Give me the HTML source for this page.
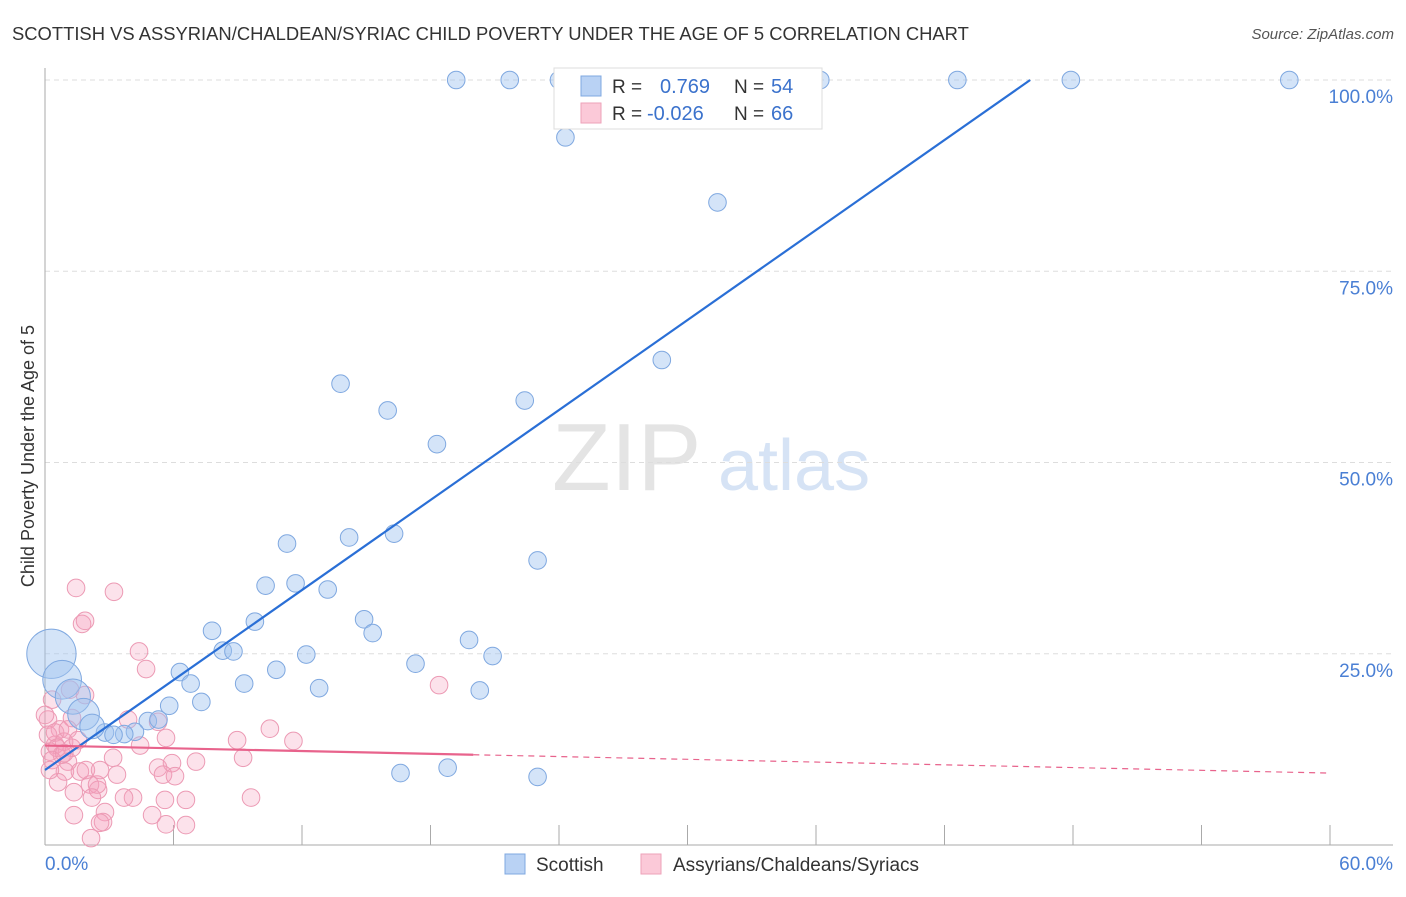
<!DOCTYPE html>
<html><head><meta charset="utf-8"><style>
body{margin:0;background:#fff;font-family:"Liberation Sans",sans-serif}
svg text{font-family:"Liberation Sans",sans-serif}
</style></head><body>
<svg id="chart" width="1406" height="892" xmlns="http://www.w3.org/2000/svg">
<text x="12" y="40" font-size="18.4" fill="#333">SCOTTISH VS ASSYRIAN/CHALDEAN/SYRIAC CHILD POVERTY UNDER THE AGE OF 5 CORRELATION CHART</text>
<text x="1394" y="39" font-size="15" fill="#555" text-anchor="end" font-style="italic">Source: ZipAtlas.com</text>
<g>
<text x="552" y="490" font-size="96" font-family="Liberation Serif" fill="#e4e4e4">ZIP</text>
<text x="718" y="490" font-size="72" fill="#d6e3f5">atlas</text>
</g>
<text transform="translate(34,456) rotate(-90)" font-size="18" fill="#333" text-anchor="middle">Child Poverty Under the Age of 5</text>
<g id="grid"></g><g id="axes"></g><g id="marks"></g>
<g>
<rect x="554" y="68" width="268" height="61" fill="#fff" stroke="#ddd"/>
<rect x="581" y="76" width="20" height="20" fill="#b9d2f4" stroke="#7fa8e0"/>
<text x="612" y="93" font-size="19" fill="#333">R =</text><text x="660" y="93" font-size="20" fill="#3b72cc">0.769</text>
<text x="734" y="93" font-size="19" fill="#333">N =</text><text x="771" y="93" font-size="20" fill="#3b72cc">54</text>
<rect x="581" y="103" width="20" height="20" fill="#fbc9d8" stroke="#eea2b9"/>
<text x="612" y="120" font-size="19" fill="#333">R =</text><text x="647" y="120" font-size="20" fill="#3b72cc">-0.026</text>
<text x="734" y="120" font-size="19" fill="#333">N =</text><text x="771" y="120" font-size="20" fill="#3b72cc">66</text>
</g>
<g>
<rect x="505" y="854" width="20" height="20" fill="#b9d2f4" stroke="#7fa8e0"/>
<text x="536" y="871" font-size="19" fill="#333">Scottish</text>
<rect x="641" y="854" width="20" height="20" fill="#fbc9d8" stroke="#eea2b9"/>
<text x="673" y="871" font-size="19" fill="#333">Assyrians/Chaldeans/Syriacs</text>
</g>
</svg>
<script>
const blueX=[19.2,21.7,24.0,27.3,36.2,42.6,47.9,58.1,24.3,31.4,28.8,13.8,16.0,22.4,18.3,11.3,14.2,16.3,23.0,10.3,11.7,13.2,9.8,14.9,15.3,7.8,19.8,8.3,8.8,12.2,20.9,6.3,10.8,17.3,6.8,9.3,12.8,20.3,7.3,5.8,4.8,5.3,4.2,3.7,2.8,3.2,16.6,18.8,23.0,0.3,0.8,1.3,1.8,2.2];
const blueY=[100,100,100,100,100,100,100,100,92.5,84.0,63.4,60.3,56.8,58.1,52.4,39.4,40.2,40.7,37.2,33.9,34.2,33.4,29.2,29.5,27.7,28.0,26.8,25.4,25.3,24.9,24.7,22.6,22.9,23.7,21.1,21.1,20.5,20.2,18.7,18.2,16.2,16.4,14.8,14.5,14.7,14.4,9.4,10.1,8.9,25.0,21.6,19.4,17.1,15.5];
const blueSize=[1,1,1,1,1,1,1,1,1,1,1,1,1,1,1,1,1,1,1,1,1,1,1,1,1,1,1,1,1,1,1,1,1,1,1,1,1,1,1,1,1,1,1,1,1,1,1,1,1,2.8,2.2,2.0,1.8,1.4];
const pinkX=[1.45,3.22,1.73,1.87,4.39,4.72,1.17,1.87,0.33,0.14,1.26,3.88,5.28,4.44,3.18,3.36,4.11,3.69,1.26,0.70,0.47,0.23,0.79,1.07,0.93,1.63,0.61,2.10,2.48,1.35,2.43,2.19,1.35,2.80,2.71,2.57,5.65,5.28,5.93,7.05,5.51,6.07,5.60,6.58,5.00,5.65,6.58,2.15,8.97,9.25,9.62,10.5,11.6,18.4,0.0,0.14,0.47,0.89,0.56,0.33,1.07,1.54,0.23,1.91,2.57,0.9];
const pinkY=[33.6,33.1,28.9,29.3,25.3,23.0,20.3,19.6,19.0,16.4,16.6,16.4,16.1,13.0,11.4,9.2,6.2,6.2,12.7,15.1,13.1,12.2,11.8,10.9,9.6,9.6,8.2,7.9,7.2,6.9,7.9,6.2,3.9,4.3,3.0,2.9,14.0,10.1,10.7,10.9,9.2,9.0,5.9,5.9,3.9,2.7,2.6,0.9,13.7,11.4,6.2,15.2,13.6,20.9,17.0,14.4,14.7,13.5,12.7,11.1,15.1,13.7,9.8,9.8,9.8,12.0];
const blueTrend=[0,9.8,46.0,100];
const pinkTrend=[0,13.0,60,9.4,20.0];
const yTicks=[25,50,75,100];
const yTickLabels=["25.0%","50.0%","75.0%","100.0%"];
const xTicks=[0,6,12,18,24,30,36,42,48,54,60];
const X0=45,X1=1330,Y0=845,Y100=80;
const sx=v=>X0+v/60*(X1-X0);
const sy=v=>Y0-v/100*(Y0-Y100);
const NS="http://www.w3.org/2000/svg";
function mk(tag,attrs,parent){const e=document.createElementNS(NS,tag);for(const k in attrs)e.setAttribute(k,attrs[k]);parent.appendChild(e);return e;}
const grid=document.getElementById('grid'),axes=document.getElementById('axes'),marks=document.getElementById('marks');
yTicks.forEach((t,i)=>{
 const l=mk('line',{x1:X0,x2:1393,y1:sy(t),y2:sy(t),stroke:'#ddd','stroke-dasharray':'5,4'},grid);
 
 
 const tx=mk('text',{x:1393,y:sy(t)+23,'font-size':19,fill:'#4a7fd4','text-anchor':'end'},grid);
 tx.textContent=yTickLabels[i];
 
 
});
const ya=mk('line',{x1:X0,x2:X0,y1:68,y2:Y0,stroke:'#aaa'},axes);


const xa=mk('line',{x1:X0,x2:1393,y1:Y0,y2:Y0,stroke:'#aaa'},axes);


xTicks.forEach(t=>{
 const l=mk('line',{x1:sx(t),x2:sx(t),y1:Y0-20,y2:Y0,stroke:'#aaa'},axes);
 
 
});
[[0,'0.0%','start',45],[60,'60.0%','end',1393]].forEach(a=>{
 const tx=mk('text',{x:a[3],y:870,'font-size':19,fill:'#4a7fd4','text-anchor':a[2]},axes);
 tx.textContent=a[1];
 
 
});
pinkX.forEach((x,i)=>{
 const c=mk('circle',{cx:sx(x),cy:sy(pinkY[i]),r:8.8,fill:'rgba(244,160,188,0.3)',stroke:'#ec9ab4','stroke-width':1},marks);
 
 
});
blueX.forEach((x,i)=>{
 const c=mk('circle',{cx:sx(x),cy:sy(blueY[i]),r:8.8*blueSize[i],fill:'rgba(160,195,240,0.45)',stroke:'#7fa8e0','stroke-width':1},marks);
 
 
});
const bl=mk('line',{x1:sx(blueTrend[0]),y1:sy(blueTrend[1]),x2:sx(blueTrend[2]),y2:sy(blueTrend[3]),stroke:'#2a6fd6','stroke-width':2.2},marks);


const pAt=x=>pinkTrend[1]+(pinkTrend[3]-pinkTrend[1])*(x-pinkTrend[0])/(pinkTrend[2]-pinkTrend[0]);
const pl=mk('line',{x1:sx(pinkTrend[0]),y1:sy(pAt(pinkTrend[0])),x2:sx(pinkTrend[4]),y2:sy(pAt(pinkTrend[4])),stroke:'#e8638c','stroke-width':2.2},marks);


const pd=mk('line',{x1:sx(pinkTrend[4]),y1:sy(pAt(pinkTrend[4])),x2:sx(pinkTrend[2]),y2:sy(pinkTrend[3]),stroke:'#e8638c','stroke-width':1.2,'stroke-dasharray':'6,5'},marks);


</script>
</body></html>
